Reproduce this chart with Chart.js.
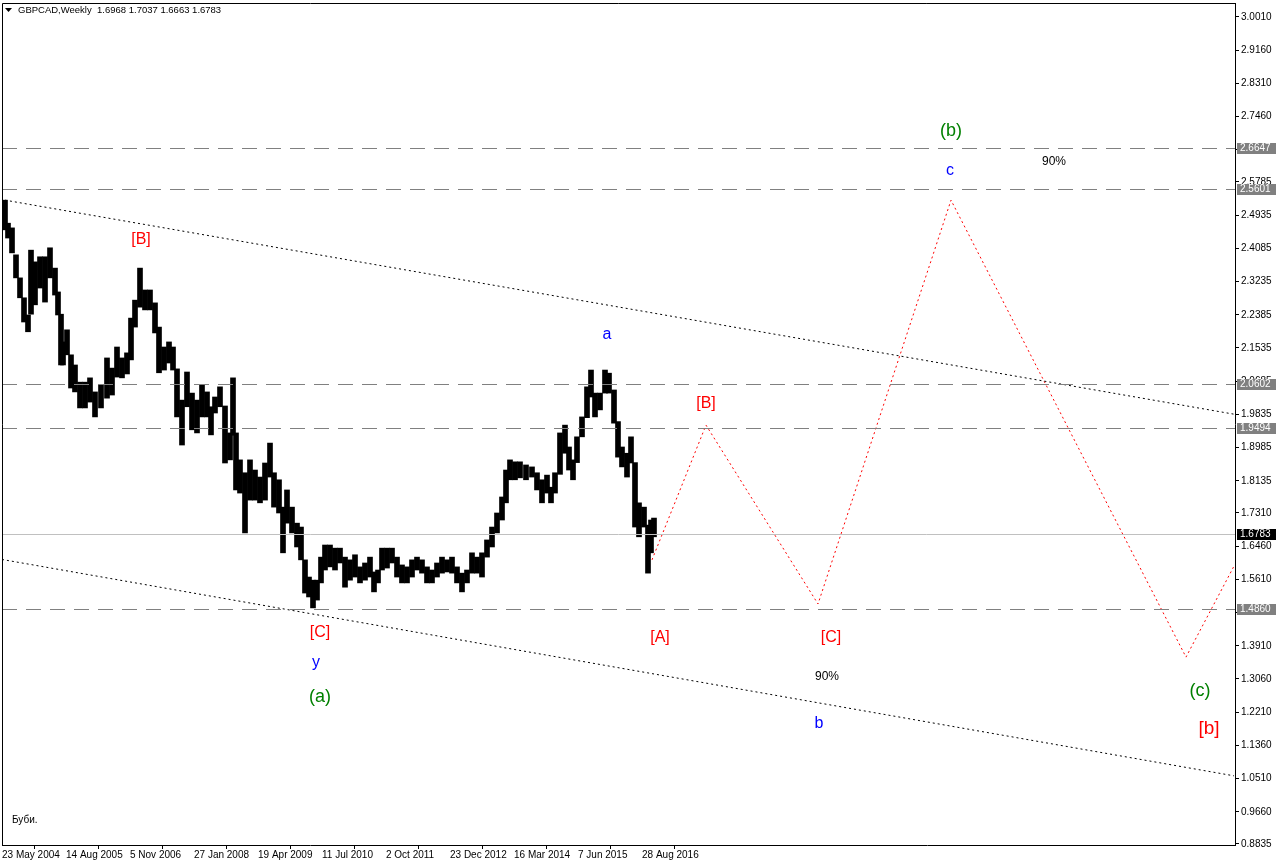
<!DOCTYPE html>
<html>
<head>
<meta charset="utf-8">
<script src="https://cdn.jsdelivr.net/npm/chart.js@4.4.0/dist/chart.umd.min.js"></script>
<style>
  html, body { margin: 0; padding: 0; background: #fff; }
  #wrap { width: 1276px; height: 866px; }
</style>
</head>
<body>
<div id="wrap"><canvas id="gbpcad" width="1276" height="866"></canvas></div>
<script>
const weeks = [3,6,10,14,18,22,26,29,33,38,43,48,53,56,59,61,65,69,73,78,83,88,93,99,105,110,115,120,125,
  129,133,138,143,148,153,157,162,167,171,175,180,185,190,195,200,205,209,213,218,223,228,231,234,238,243,248,253,258,
  263,268,272,277,281,285,290,295,299,303,307,311,315,319,323,328,333,338,343,348,353,358,363,368,372,376,380,385,390,
  395,400,405,410,415,420,425,430,435,440,445,450,455,460,465,470,475,480,485,490,495,500,504,508,513,518,524,
  530,535,540,545,549,553,558,563,567,571,575,580,585,589,593,598,603,607,612,616,620,625,629,633,637,642,646,649,652];
const highs = [2.532,2.473,2.461,2.392,2.333,2.282,2.238,2.404,2.374,2.387,2.387,2.410,2.358,2.297,2.240,2.169,2.200,2.136,2.110,2.066,2.066,2.077,2.041,2.059,2.128,2.102,2.156,2.128,2.141,
  2.230,2.276,2.358,2.302,2.302,2.269,2.207,2.156,2.169,2.156,2.100,2.020,2.092,2.038,2.020,2.059,2.041,2.003,2.028,2.054,2.005,1.936,2.077,1.936,1.867,1.834,1.867,1.841,1.823,
  1.859,1.910,1.834,1.816,1.746,1.790,1.746,1.705,1.695,1.611,1.567,1.559,1.559,1.618,1.649,1.649,1.641,1.641,1.618,1.611,1.624,1.593,1.603,1.618,1.580,1.585,1.641,1.641,1.641,
  1.618,1.598,1.593,1.611,1.618,1.611,1.593,1.585,1.603,1.618,1.611,1.618,1.593,1.577,1.585,1.629,1.618,1.629,1.662,1.695,1.731,1.772,1.841,1.867,1.862,1.862,1.854,
  1.849,1.834,1.816,1.828,1.797,1.834,1.936,1.956,1.900,1.867,1.926,1.977,2.054,2.097,2.038,2.038,2.097,2.089,2.046,1.965,1.900,1.884,1.926,1.860,1.757,1.746,1.700,1.713,1.718];
const lows = [2.456,2.435,2.397,2.333,2.282,2.220,2.195,2.240,2.264,2.307,2.271,2.333,2.289,2.238,2.110,2.110,2.136,2.051,2.041,2.000,2.000,2.015,1.977,2.000,2.025,2.033,2.079,2.077,2.087,
  2.123,2.207,2.258,2.251,2.251,2.192,2.090,2.097,2.115,2.097,1.977,1.905,2.003,1.944,1.936,1.977,1.977,1.931,1.987,2.003,1.859,1.867,1.930,1.790,1.782,1.680,1.764,1.764,1.757,
  1.764,1.823,1.746,1.731,1.629,1.705,1.680,1.644,1.611,1.526,1.516,1.488,1.508,1.552,1.585,1.593,1.585,1.603,1.541,1.559,1.567,1.552,1.559,1.567,1.529,1.552,1.585,1.590,1.603,
  1.567,1.552,1.552,1.567,1.585,1.577,1.552,1.552,1.567,1.577,1.580,1.577,1.552,1.529,1.552,1.577,1.577,1.567,1.618,1.644,1.680,1.713,1.757,1.816,1.816,1.821,1.816,
  1.823,1.790,1.757,1.782,1.757,1.782,1.830,1.884,1.841,1.816,1.860,1.926,1.975,2.028,1.977,1.995,2.038,2.038,1.961,1.874,1.849,1.823,1.859,1.695,1.670,1.695,1.577,1.629,1.670];

// channel lines and wave projection
const upperLine = [{x: 3, y: 2.532}, {x: 1232, y: 1.984}];
const lowerLine = [{x: 0, y: 1.612}, {x: 1232, y: 1.058}];
const projection = [{x: 650, y: 1.611}, {x: 704, y: 1.956}, {x: 816, y: 1.498}, {x: 949, y: 2.532}, {x: 1184, y: 1.362}, {x: 1232, y: 1.595}];

// horizontal levels
const levels = [2.6647, 2.5601, 2.0602, 1.9494, 1.4860];
const lastPrice = 1.6783;

// axis ticks
const yTicks = [3.0010, 2.9160, 2.8310, 2.7460, 2.6610, 2.5785, 2.4935, 2.4085, 2.3235, 2.2385, 2.1535, 2.0685,
  1.9835, 1.8985, 1.8135, 1.7310, 1.6460, 1.5610, 1.4760, 1.3910, 1.3060, 1.2210, 1.1360, 1.0510, 0.9660, 0.8835];
const dateTicks = [0, 64, 128, 192, 256, 320, 384, 448, 512, 576, 640];
const dateLabels = ['23 May 2004', '14 Aug 2005', '5 Nov 2006', '27 Jan 2008', '19 Apr 2009', '11 Jul 2010',
  '2 Oct 2011', '23 Dec 2012', '16 Mar 2014', '7 Jun 2015', '28 Aug 2016'];

// wave labels: [text, week, price, colour, size]
const waveLabels = [
  ['[B]', 139, 2.430, '#ff0000', 16],
  ['a', 605, 2.187, '#0000ff', 16],
  ['[B]', 704, 2.010, '#ff0000', 16],
  ['(b)', 949, 2.709, '#008000', 18],
  ['c', 948, 2.607, '#0000ff', 16],
  ['90%', 1052, 2.630, '#000000', 12],
  ['[C]', 318, 1.426, '#ff0000', 16],
  ['y', 314, 1.347, '#0000ff', 16],
  ['(a)', 318, 1.260, '#008000', 18],
  ['[A]', 658, 1.411, '#ff0000', 16],
  ['[C]', 829, 1.411, '#ff0000', 16],
  ['90%', 825, 1.311, '#000000', 12],
  ['b', 817, 1.193, '#0000ff', 16],
  ['(c)', 1198, 1.275, '#008000', 18],
  ['[b]', 1207, 1.178, '#ff0000', 19]
];

const FONT = '"Liberation Sans", Arial, sans-serif';

function noPad(s) {
  s.paddingTop = 0; s.paddingBottom = 0; s.paddingLeft = 0; s.paddingRight = 0;
}

const overlay = {
  id: 'overlay',
  afterDatasetsDraw(chart) {
    const ctx = chart.ctx, a = chart.chartArea, y = chart.scales.y;
    ctx.save();
    ctx.lineWidth = 1;
    // current price line
    ctx.strokeStyle = '#c0c0c0';
    let py = Math.round(y.getPixelForValue(lastPrice)) + 0.5;
    ctx.beginPath(); ctx.moveTo(a.left, py); ctx.lineTo(a.right, py); ctx.stroke();
    // dashed levels
    ctx.strokeStyle = '#808080';
    ctx.setLineDash([15, 9]);
    levels.forEach(v => {
      const ly = Math.round(y.getPixelForValue(v)) + 0.5;
      ctx.beginPath(); ctx.moveTo(a.left, ly); ctx.lineTo(a.right, ly); ctx.stroke();
    });
    ctx.restore();
  },
  afterDraw(chart) {
    const ctx = chart.ctx, a = chart.chartArea, x = chart.scales.x, y = chart.scales.y;
    ctx.save();
    // frame left / top
    ctx.strokeStyle = '#000';
    ctx.lineWidth = 1;
    ctx.beginPath();
    ctx.moveTo(a.left + 0.5, a.bottom); ctx.lineTo(a.left + 0.5, a.top + 0.5); ctx.lineTo(a.right, a.top + 0.5);
    ctx.stroke();

    // price boxes on the axis
    ctx.font = '10px ' + FONT;
    ctx.textBaseline = 'middle';
    ctx.textAlign = 'left';
    levels.forEach(v => {
      const ly = Math.round(y.getPixelForValue(v));
      ctx.fillStyle = '#808080';
      ctx.fillRect(a.right + 2, ly - 5, 40, 11);
      ctx.fillStyle = '#fff';
      ctx.fillText(v.toFixed(4), a.right + 5, ly + 0.5);
    });
    const cy = Math.round(y.getPixelForValue(lastPrice));
    ctx.fillStyle = '#000';
    ctx.fillRect(a.right + 2, cy - 5, 40, 11);
    ctx.fillStyle = '#fff';
    ctx.fillText(lastPrice.toFixed(4), a.right + 5, cy + 0.5);

    // title
    ctx.fillStyle = '#000';
    ctx.beginPath(); ctx.moveTo(5, 8); ctx.lineTo(12, 8); ctx.lineTo(8.5, 12); ctx.closePath(); ctx.fill();
    ctx.font = '9.5px ' + FONT;
    ctx.fillText('GBPCAD,Weekly  1.6968 1.7037 1.6663 1.6783', 18, 10.5);
    ctx.font = '10px ' + FONT;
    ctx.fillText('Буби.', 12, 820);

    // wave labels
    ctx.textAlign = 'center';
    waveLabels.forEach(([t, w, p, c, s]) => {
      ctx.font = s + 'px ' + FONT;
      ctx.fillStyle = c;
      ctx.fillText(t, x.getPixelForValue(w), y.getPixelForValue(p));
    });
    ctx.restore();
  }
};

new Chart(document.getElementById('gbpcad'), {
  type: 'bar',
  data: {
    datasets: [
      {
        type: 'bar',
        data: weeks.map((w, i) => ({x: w, y: [lows[i], highs[i]]})),
        backgroundColor: '#000',
        borderWidth: 0,
        barThickness: 5
      },
      {
        type: 'line',
        data: upperLine,
        borderColor: '#000',
        borderWidth: 1,
        borderDash: [2, 3],
        pointRadius: 0
      },
      {
        type: 'line',
        data: lowerLine,
        borderColor: '#000',
        borderWidth: 1,
        borderDash: [2, 3],
        pointRadius: 0
      },
      {
        type: 'line',
        data: projection,
        borderColor: '#ff0000',
        borderWidth: 1,
        borderDash: [2, 3],
        pointRadius: 0,
        tension: 0
      }
    ]
  },
  options: {
    responsive: false,
    animation: false,
    devicePixelRatio: 1,
    layout: { padding: { top: 3, left: 2, right: 0, bottom: 0 } },
    plugins: { legend: { display: false }, tooltip: { enabled: false } },
    scales: {
      x: {
        type: 'linear',
        min: 0,
        max: 1233,
        offset: false,
        grid: { drawOnChartArea: false, drawTicks: true, tickLength: 4, color: '#000' },
        border: { color: '#000' },
        ticks: {
          align: 'start',
          autoSkip: false,
          maxRotation: 0,
          padding: 0,
          color: '#000',
          font: { family: FONT, size: 10 },
          callback: (v) => dateLabels[dateTicks.indexOf(v)]
        },
        afterBuildTicks: (s) => { s.ticks = dateTicks.map(v => ({value: v})); },
        afterFit: (s) => { s.height = 21; noPad(s); }
      },
      y: {
        position: 'right',
        min: 0.8809,
        max: 3.0368,
        grid: { drawOnChartArea: false, drawTicks: true, tickLength: 4, color: '#000' },
        border: { color: '#000' },
        ticks: {
          autoSkip: false,
          padding: 2,
          color: '#000',
          font: { family: FONT, size: 10 },
          callback: (v) => Number(v).toFixed(4)
        },
        afterBuildTicks: (s) => { s.ticks = yTicks.map(v => ({value: v})); },
        afterFit: (s) => { s.width = 41; noPad(s); }
      }
    }
  },
  plugins: [overlay]
});
</script>
</body>
</html>
